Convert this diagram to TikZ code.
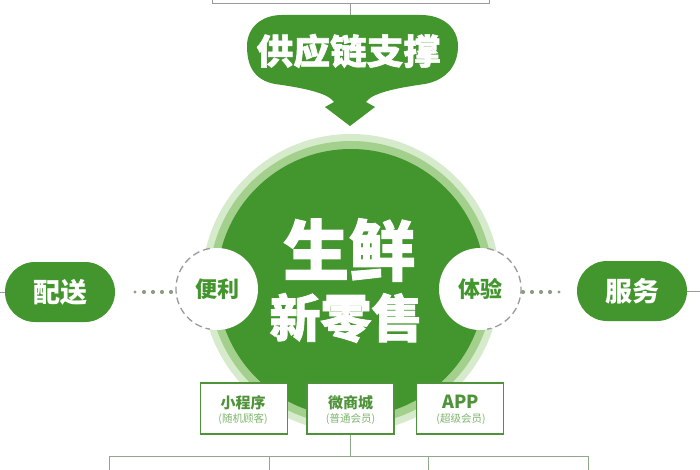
\documentclass[tikz,border=0pt]{standalone}
\usepackage{fontspec}
\setmainfont{Noto Sans CJK SC}
\newfontfamily\heavy[BoldFeatures={FakeBold=1.6}]{Noto Sans CJK SC}
\definecolor{mg}{HTML}{43952D}
\definecolor{ringA}{HTML}{D6EBCB}
\definecolor{ringB}{HTML}{A3D08C}
\definecolor{boxg}{HTML}{4E9239}
\definecolor{subg}{HTML}{7DB56C}
\definecolor{lineg}{HTML}{8FA88A}
\definecolor{dashg}{HTML}{9A9A9A}
\definecolor{dotg}{HTML}{8C9E84}
\begin{document}
\begin{tikzpicture}[x=1pt,y=-1pt,
  wtxt/.style={text=white,font=\heavy\bfseries\fontsize{#1}{#1}\selectfont,inner sep=0pt},
  pill/.style={fill=mg,rounded corners=30pt,minimum width=110pt,minimum height=60pt,draw=none},
  smallc/.style={circle,fill=white,minimum size=82pt,inner sep=0pt,
    text=mg,font=\bfseries\fontsize{22}{22}\selectfont},
  chanbox/.style={draw=boxg,line width=1.5pt,fill=white,minimum width=87pt,minimum height=51pt,inner sep=0pt},
  maintxt/.style={text=boxg,font=\bfseries\fontsize{#1}{#1}\selectfont,inner sep=0pt},
  subtxt/.style={text=subg,font=\fontsize{10.5}{10.5}\selectfont,inner sep=0pt},
  topline/.style={draw=dashg,line width=0.9pt},
  botline/.style={draw=lineg,line width=1pt},
  ringdash/.style={draw=dashg,line width=1.3pt,dash pattern=on 7pt off 4pt},
  dot/.style={fill=dotg}]
\useasboundingbox (0,0) rectangle (700,470);
\fill[white] (0,0) rectangle (700,470);

% top box remnant
\coordinate (tl) at (212,0);
\coordinate (tlb) at (212,3);
\coordinate (trb) at (489,3);
\coordinate (tr) at (489,0);
\coordinate (tm) at (350,3);
\coordinate (cm) at (350,18);
\draw[topline] (tl) -- (tlb) -- (trb) -- (tr);
\draw[topline] (tm) -- (cm);

% callout
\fill[mg] (282,15) -- (421,15) .. controls (443,15) and (458,28) .. (458,46)
  .. controls (458,66) and (446,80) .. (425,84)
  .. controls (396,88) and (372,93) .. (366,102) -- (375,107) -- (350,126)
  -- (325,107) -- (334,102)
  .. controls (328,93) and (304,88) .. (275,84)
  .. controls (254,80) and (247,66) .. (247,46)
  .. controls (247,28) and (261,15) .. (282,15) -- cycle;
\node[wtxt=35,xscale=1.05] (supply) at (348.5,51) {供应链支撑};

% central circle
\fill[ringA] (351,283) circle (149pt);
\fill[ringB] (351,283) circle (142pt);
\fill[mg] (351,283) circle (134pt);
\node[circle,minimum size=268pt,inner sep=0pt] (core) at (351,283) {};
\node[wtxt=66] (t1) at (349,250) {生鲜};
\node[wtxt=51] (t2) at (346,318) {新零售};

% small circles
\node[smallc] (conv) at (217,289) {便利};
\node[smallc] (exp) at (480,289) {体验};
\draw[ringdash] (conv.100) arc (100:260:41pt);
\draw[ringdash] (exp.80) arc (80:-80:41pt);

% pills
\node[pill,text=white,font=\bfseries\fontsize{27}{27}\selectfont] (deliv) at (60,292) {配送};
\node[pill,text=white,font=\bfseries\fontsize{27}{27}\selectfont] (serv) at (632,291) {服务};
\coordinate (lend) at (0,292);
\coordinate (rend) at (700,291);
\draw[dashg,line width=0.9pt] (deliv.west) -- (lend);
\draw[dashg,line width=0.9pt] (serv.east) -- (rend);

% dots
\foreach \x/\r in {135/1.6,144/2.1,153/2.1,162/2.1,171/2.1}{\fill[dot] (\x,292) circle (\r pt);}
\foreach \x/\r in {523/2.1,532/2.1,541/2.1,550/2.1,559/1.6}{\fill[dot] (\x,292) circle (\r pt);}

% channel boxes
\node[chanbox] (b1) at (244,408.5) {};
\node[chanbox] (b2) at (350.5,408.5) {};
\node[chanbox] (b3) at (460,408.5) {};
\node[maintxt=15] at (243,403) {小程序};
\node[subtxt] at (243,419) {(随机顾客)};
\node[maintxt=15] at (350.5,403) {微商城};
\node[subtxt] at (350.5,419) {(普通会员)};
\node[maintxt=18] at (461,402) {APP};
\node[subtxt] at (461,419) {(超级会员)};

% bottom tree
\coordinate (hb) at (350.5,456);
\coordinate (h1) at (109,456);
\coordinate (h4) at (588,456);
\coordinate (h2) at (269,456);
\coordinate (h3) at (428,456);
\draw[botline] (b2.south) -- (hb);
\draw[botline] (h1) -- (h4);
\foreach \c in {h1,h2,h3,h4}{\draw[botline] (\c) -- ++(0,14);}
\end{tikzpicture}
\end{document}
